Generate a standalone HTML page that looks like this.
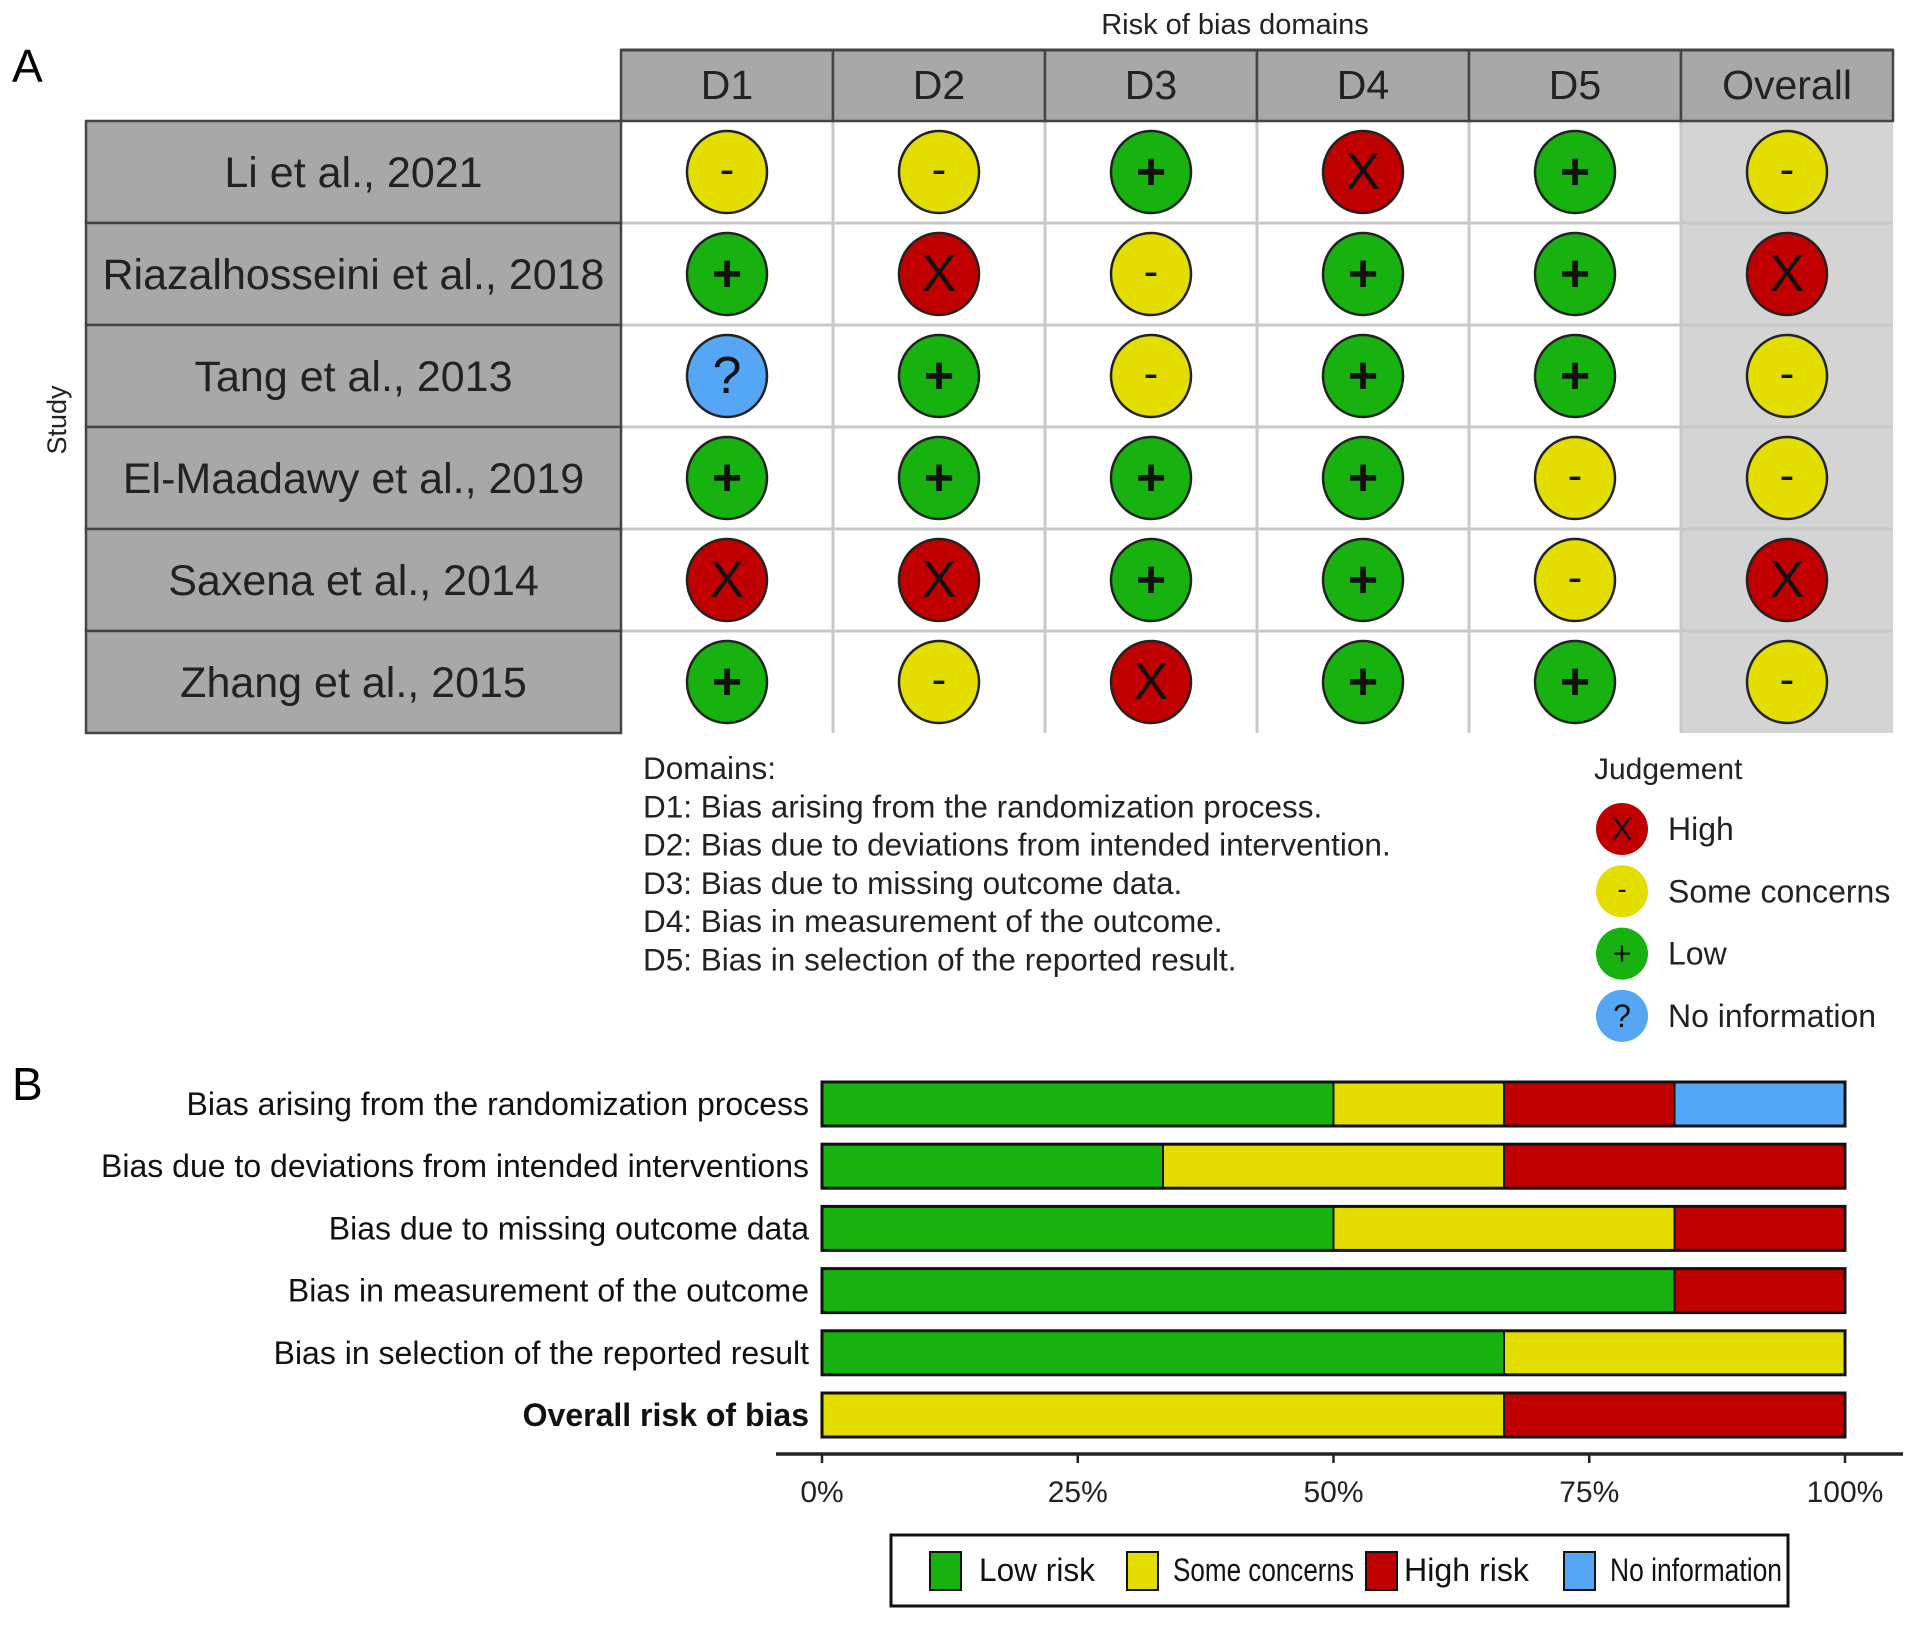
<!DOCTYPE html>
<html><head><meta charset="utf-8"><style>
body{margin:0;background:#fff}
svg{display:block;font-family:"Liberation Sans",sans-serif}
</style></head><body>
<svg id="chart" width="1913" height="1625" viewBox="0 0 1913 1625" xmlns="http://www.w3.org/2000/svg"></svg>
<script>
const studies = ["Li et al., 2021","Riazalhosseini et al., 2018","Tang et al., 2013","El-Maadawy et al., 2019","Saxena et al., 2014","Zhang et al., 2015"];
const domains = ["D1","D2","D3","D4","D5","Overall"];
// H=high, S=some concerns, L=low, N=no information
const judgements = [
 ["S","S","L","H","L","S"],
 ["L","H","S","L","L","H"],
 ["N","L","S","L","L","S"],
 ["L","L","L","L","S","S"],
 ["H","H","L","L","S","H"],
 ["L","S","H","L","L","S"]
];
const barLabels = ["Bias arising from the randomization process","Bias due to deviations from intended interventions","Bias due to missing outcome data","Bias in measurement of the outcome","Bias in selection of the reported result","Overall risk of bias"];
const lowRisk = [3,2,3,5,4,0];
const someConcerns = [1,2,2,0,2,4];
const highRisk = [1,2,1,1,0,2];
const noInfo = [1,0,0,0,0,0];
const ticks = [0,25,50,75,100];
const tickLabels = ["0%","25%","50%","75%","100%"];

const svg=document.getElementById('chart');
const NS="http://www.w3.org/2000/svg";
function mk(tag,attrs,parent,text){const e=document.createElementNS(NS,tag);for(const k in attrs)e.setAttribute(k,attrs[k]);if(text!==undefined)e.textContent=text;(parent||svg).appendChild(e);return e;}
const col={H:"#c00000",S:"#e3de00",L:"#17b20f",N:"#55a6f5"};
const sym={H:"X",S:"-",L:"+",N:"?"};

// Panel A
let t;
t=mk('text',{x:12,y:82,'font-size':46,fill:'#000'},svg,'A');
t=mk('text',{x:1235,y:34,'font-size':29,'text-anchor':'middle',fill:'#222'},svg,'Risk of bias domains');
t=mk('text',{x:0,y:0,'font-size':27,'text-anchor':'middle',fill:'#222',transform:'translate(66,420) rotate(-90)'},svg,'Study');
const gx0=621,colW=212,hy0=50,hy1=121,ry0=121,rowH=102,lx0=86;
const cx=i=>gx0+colW*(i+0.5), cy=j=>ry0+rowH*(j+0.5);
let r=mk('rect',{x:gx0+colW*5,y:ry0,width:colW,height:rowH*6,fill:'#d4d4d4'});
for(let i=1;i<6;i++){let l=mk('line',{x1:gx0+colW*i,x2:gx0+colW*i,y1:ry0,y2:ry0+rowH*6,stroke:'#c8c8c8','stroke-width':3});}
for(let j=1;j<6;j++){let l=mk('line',{x1:gx0,x2:gx0+colW*6,y1:ry0+rowH*j,y2:ry0+rowH*j,stroke:'#c8c8c8','stroke-width':3});}
domains.forEach((d,i)=>{
 let h=mk('rect',{x:gx0+colW*i,y:hy0,width:colW,height:hy1-hy0,fill:'#a8a8a8',stroke:'#444','stroke-width':2.5});
 let tt=mk('text',{x:cx(i),y:hy0+49,'font-size':41,'text-anchor':'middle',fill:'#222'},svg,d);
});
studies.forEach((s,j)=>{
 let b=mk('rect',{x:lx0,y:ry0+rowH*j,width:gx0-lx0,height:rowH,fill:'#a8a8a8',stroke:'#444','stroke-width':2.5});
 let tt=mk('text',{x:(lx0+gx0)/2,y:cy(j)+15,'font-size':43,'text-anchor':'middle',fill:'#222'},svg,s);
 judgements[j].forEach((v,i)=>{
  let c=mk('ellipse',{cx:cx(i),cy:cy(j),rx:40,ry:41,fill:col[v],stroke:'#222','stroke-width':2.5});
  let g=mk('text',{x:cx(i),y:cy(j)+(v==='S'?12:17),'font-size':v==='S'?44:52,'font-weight':v==='L'?'bold':'normal','text-anchor':'middle',fill:'#111'},svg,sym[v]);
 });
});
mk('line',{x1:gx0,x2:gx0+colW*6,y1:hy0,y2:hy0,stroke:'#444','stroke-width':3});
const domText=["Domains:","D1: Bias arising from the randomization process.","D2: Bias due to deviations from intended intervention.","D3: Bias due to missing outcome data.","D4: Bias in measurement of the outcome.","D5: Bias in selection of the reported result."];
domText.forEach((s,k)=>{let tt=mk('text',{x:643,y:779+38.3*k,'font-size':31.5,fill:'#222'},svg,s);});
t=mk('text',{x:1594,y:779,'font-size':30,fill:'#222'},svg,'Judgement');
const jl=[["H","High"],["S","Some concerns"],["L","Low"],["N","No information"]];
jl.forEach((e,k)=>{const y=829+62.3*k;
 let c=mk('circle',{cx:1622,cy:y,r:26,fill:col[e[0]]});
 let g=mk('text',{x:1622,y:y+(e[0]==='S'?7:11),'font-size':e[0]==='S'?28:32,'text-anchor':'middle',fill:'#111'},svg,sym[e[0]]);
 let tt=mk('text',{x:1668,y:y+11,'font-size':32,fill:'#222'},svg,e[1]);
});

// Panel B
t=mk('text',{x:12,y:1100,'font-size':46,fill:'#000'},svg,'B');
const bx0=822,bx1=1845,bh=44;
const xs=p=>bx0+(bx1-bx0)*p/100;
const by=j=>1109+62.2*j-5;
barLabels.forEach((lab,j)=>{
 const total=lowRisk[j]+someConcerns[j]+highRisk[j]+noInfo[j];
 const segs=[[lowRisk[j],'L'],[someConcerns[j],'S'],[highRisk[j],'H'],[noInfo[j],'N']];
 let acc=0;
 segs.forEach(s=>{ if(s[0]<=0)return; const p0=acc/total*100, p1=(acc+s[0])/total*100; acc+=s[0];
  let rr=mk('rect',{x:xs(p0),y:by(j)-bh/2,width:xs(p1)-xs(p0),height:bh,fill:col[s[1]],stroke:'#111','stroke-width':2});
 });
 let ob=mk('rect',{x:bx0,y:by(j)-bh/2,width:bx1-bx0,height:bh,fill:'none',stroke:'#111','stroke-width':3});
 let tt=mk('text',{x:809,y:by(j)+11,'font-size':32,'text-anchor':'end',fill:'#111','font-weight':j===5?'bold':'normal'},svg,lab);
});
let ax=mk('line',{x1:776,x2:1903,y1:1454,y2:1454,stroke:'#222','stroke-width':3.5});
ticks.forEach((v,k)=>{
 let l=mk('line',{x1:xs(v),x2:xs(v),y1:1454,y2:1463,stroke:'#222','stroke-width':2.5});
 let tt=mk('text',{x:xs(v),y:1502,'font-size':30,'text-anchor':'middle',fill:'#222'},svg,tickLabels[k]);
});
let lb=mk('rect',{x:891,y:1535,width:897,height:71,fill:'#fff',stroke:'#111','stroke-width':3});
const bl=[["L","Low risk",930,979,116],["S","Some concerns",1127,1173,181],["H","High risk",1366,1404,125],["N","No information",1564,1610,172]];
bl.forEach(e=>{
 let s=mk('rect',{x:e[2],y:1552,width:31,height:38,fill:col[e[0]],stroke:'#111','stroke-width':2});
 let tt=mk('text',{x:e[3],y:1581,'font-size':32,fill:'#111',textLength:e[4],lengthAdjust:'spacingAndGlyphs'},svg,e[1]);
});
</script>
</body></html>
